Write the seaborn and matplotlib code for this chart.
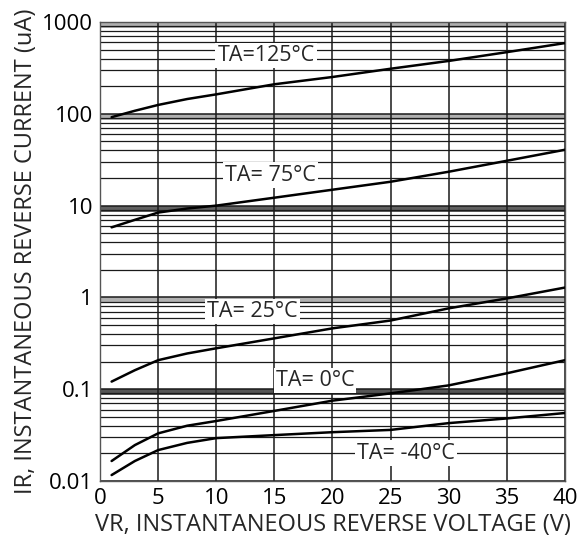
import numpy as np
import pandas as pd
import matplotlib
matplotlib.use("Agg")
import matplotlib.pyplot as plt
import seaborn as sns

# reverse voltage (V) and reverse current (uA)
volts = [1, 3, 5, 7.5, 10, 15, 20, 25, 30, 35, 40]
i_125 = [92, 108, 125, 145, 163, 210, 252, 310, 377, 470, 590]
i_75 = [5.8, 7.0, 8.4, 9.3, 10.0, 12.2, 14.9, 18.2, 23.4, 30.8, 40.6]
i_25 = [0.121, 0.161, 0.207, 0.245, 0.279, 0.358, 0.46, 0.56, 0.76, 0.975, 1.28]
i_0 = [0.0165, 0.0246, 0.033, 0.040, 0.045, 0.058, 0.075, 0.09, 0.11, 0.149, 0.207]
i_m40 = [0.0116, 0.0165, 0.0217, 0.026, 0.0293, 0.0316, 0.034, 0.036, 0.0427, 0.048, 0.055]

temps = ["125", "75", "25", "0", "-40"]
label_text = ["TA=125°C", "TA= 75°C", "TA= 25°C", "TA= 0°C", "TA= -40°C"]
label_x = [14.3, 14.7, 13.1, 18.5, 26.3]
label_y = [430, 21.5, 0.70, 0.125, 0.0201]

curves = [i_125, i_75, i_25, i_0, i_m40]
df = pd.concat([pd.DataFrame({"V": volts, "I": c, "T": t}) for c, t in zip(curves, temps)])

sns.set_style("white")
plt.rcParams["font.family"] = ["Open Sans", "DejaVu Sans"]

fig = plt.figure(figsize=(5.8, 5.38), dpi=100)
ax = fig.add_axes([0.1724, 0.106, 0.8016, 0.853])

# heavy gray bands at the decades, like the scanned sheet
for d, c in zip([1000, 100, 10, 1, 0.1], ["#b0b0b0", "#b0b0b0", "#606060", "#b0b0b0", "#555555"]):
    ax.axhspan(d * 0.86, d, color=c, lw=0, zorder=0.5)

sns.lineplot(data=df, x="V", y="I", hue="T", palette=["black"] * 5,
             legend=False, lw=1.8, ax=ax, zorder=3)

ax.set_yscale("log")
ax.set_xlim(0, 40)
ax.set_ylim(0.01, 1000)
ax.set_xticks(range(0, 41, 5))
ax.set_yticks([0.01, 0.1, 1, 10, 100, 1000])
ax.set_yticklabels(["0.01", "0.1", "1", "10", "100", "1000"])
ax.grid(True, which="major", color="#1a1a1a", lw=1.1, zorder=1)
ax.yaxis.grid(True, which="minor", color="#1a1a1a", lw=0.9)
ax.set_axisbelow(True)
ax.tick_params(which="both", length=0, labelsize=16, pad=5, labelcolor="black")
for s in ax.spines.values():
    s.set_color("#555555")
    s.set_linewidth(1.0)

for txt, x, y in zip(label_text, label_x, label_y):
    ax.text(x, y, txt, fontsize=15.5, ha="center", va="center", zorder=4,
            bbox=dict(facecolor="white", edgecolor="none", pad=1.5))

ax.set_xlabel("VR, INSTANTANEOUS REVERSE VOLTAGE (V)", fontsize=17, labelpad=3)
ax.set_ylabel("IR, INSTANTANEOUS REVERSE CURRENT (uA)", fontsize=17, labelpad=3)

fig.savefig("out.png", dpi=100)
